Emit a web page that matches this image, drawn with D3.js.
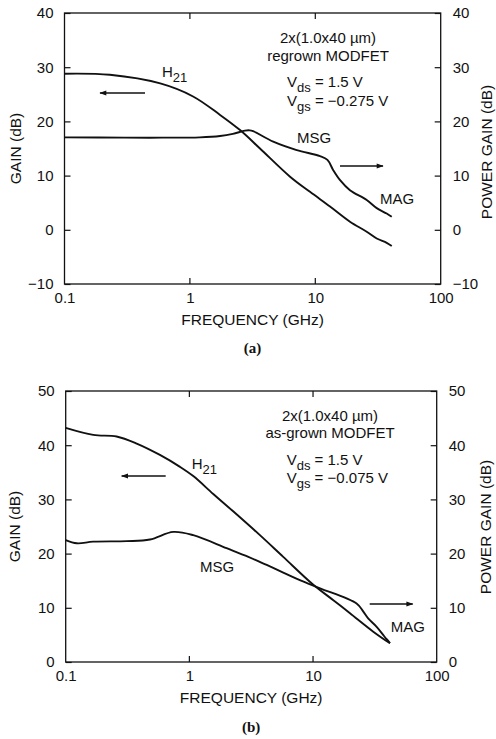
<!DOCTYPE html>
<html>
<head>
<meta charset="utf-8">
<script src="https://cdn.jsdelivr.net/npm/d3@7"></script>
<style>
  body { margin: 0; background: #fff; }
  svg text { font-family: "Liberation Sans", Arial, sans-serif; fill: #111; }
  .axis-title { font-size: 15.5px; }
  .tick-label { font-size: 15px; }
  .note { font-size: 15px; }
  .panel-tag { font-family: "Liberation Serif", "Times New Roman", serif; font-size: 15px; font-weight: bold; }
</style>
</head>
<body>
<svg id="paper" width="496" height="739"></svg>
<script>
// frequency ticks (GHz)
const freqTicks = [0.1, 1, 10, 100];
const freqInnerTicks = [1, 10];

// panel (a): regrown MODFET, [GHz, dB]
const h21A = [[0.1, 28.8], [0.23, 28.6], [0.58, 27.0], [1.06, 24.6], [1.74, 21.2], [2.51, 18.4],
  [3.62, 15.0], [6.29, 9.8], [9.07, 7.0], [13.1, 4.3], [18.9, 1.5], [25.7, -0.35], [30.9, -1.6],
  [37.1, -2.4], [40.7, -3.0]];
const msgA = [[0.1, 17.06], [0.3, 17.0], [0.6, 17.0], [1.2, 17.06], [1.74, 17.3], [2.2, 17.7],
  [2.75, 18.3], [3.0, 18.35], [3.19, 18.2], [4.62, 16.25], [7.11, 14.7], [10.9, 13.6], [12.5, 12.9],
  [13.9, 11.0], [15.7, 9.2], [18.9, 7.3], [25.7, 5.5], [30.9, 4.0], [37.1, 3.0], [40.7, 2.4]];
const gainTicksA = [-10, 0, 10, 20, 30, 40];

// panel (b): as-grown MODFET, [GHz, dB]
const h21B = [[0.1, 43.2], [0.167, 41.9], [0.258, 41.6], [0.375, 40.3], [0.578, 38.2], [0.84, 36.0],
  [1.075, 34.3], [1.56, 31.0], [2.26, 27.8], [3.72, 23.4], [5.74, 19.4], [10.0, 14.3], [14.6, 11.4],
  [19.9, 9.0], [30.7, 5.6], [41.9, 3.45]];
const msgB = [[0.1, 22.5], [0.123, 21.9], [0.167, 22.2], [0.311, 22.3], [0.48, 22.6], [0.741, 24.0],
  [1.075, 23.4], [2.0, 21.0], [3.0, 19.4], [4.22, 17.9], [5.74, 16.5], [8.0, 15.0], [11.4, 13.6],
  [22.5, 10.8], [25.5, 9.3], [27.9, 8.05], [32.7, 6.5], [36.9, 5.0], [39.4, 4.2], [41.9, 3.5]];
const gainTicksB = [0, 10, 20, 30, 40, 50];

const panels = [
  {
    tag: "(a)", h21: h21A, msg: msgA, yDomain: [-10, 40], yTicks: gainTicksA,
    box: { left: 64.5, right: 440.7, top: 13, bottom: 284 },
    info: ["2x(1.0x40 \u00b5m)", "regrown MODFET"], vds: "1.5 V", vgs: "\u22120.275 V",
    pos: {
      info: [263.5, 30, 48], volts: [222.5, 74, 93], h21: [97.5, 64], msg: [232.5, 130], mag: [315.5, 191],
      arrowL: [80.5, 35.5, 80], arrowR: [275.5, 318.5, 153], xTitle: 325, tag: 353,
      yTitleL: 15.5, yTitleR: 487, yTitleRy: 152,
    },
  },
  {
    tag: "(b)", h21: h21B, msg: msgB, yDomain: [0, 50], yTicks: gainTicksB,
    box: { left: 65.7, right: 436.7, top: 391, bottom: 662 },
    info: ["2x(1.0x40 \u00b5m)", "as-grown MODFET"], vds: "1.5 V", vgs: "\u22120.075 V",
    pos: {
      info: [264.3, 30, 47], volts: [221, 74, 92], h21: [126, 78], msg: [134.3, 181], mag: [325, 241],
      arrowL: [100, 56, 85], arrowR: [304, 347, 213], xTitle: 703, tag: 732,
      yTitleL: 15, yTitleR: 486, yTitleRy: 527,
    },
  },
];

const svg = d3.select("#paper");

svg.append("defs").append("marker")
  .attr("id", "head")
  .attr("viewBox", "0 0 10 10")
  .attr("refX", 9).attr("refY", 5)
  .attr("markerWidth", 9).attr("markerHeight", 7)
  .attr("markerUnits", "userSpaceOnUse")
  .attr("orient", "auto")
  .append("path")
  .attr("d", "M0,1.5 L10,5 L0,8.5 Z")
  .attr("fill", "#111");

const fmt = (v) => (v < 0 ? "\u2212" + Math.abs(v) : String(v));

panels.forEach((p) => {
  const b = p.box;
  const x = d3.scaleLog().domain([0.1, 100]).range([b.left, b.right]);
  const y = d3.scaleLinear().domain(p.yDomain).range([b.bottom, b.top]);
  const g = svg.append("g").attr("class", "panel");

  // frame
  g.append("rect")
    .attr("x", b.left).attr("y", b.top)
    .attr("width", b.right - b.left).attr("height", b.bottom - b.top)
    .attr("fill", "none").attr("stroke", "#111").attr("stroke-width", 1.3);

  // axes, ticks inward
  const axL = d3.axisLeft(y).tickValues(p.yTicks).tickSizeInner(-6).tickSizeOuter(0).tickPadding(11).tickFormat(fmt);
  const axR = d3.axisRight(y).tickValues(p.yTicks).tickSizeInner(-6).tickSizeOuter(0).tickPadding(12).tickFormat(fmt);
  const axB = d3.axisBottom(x).tickValues(freqTicks).tickSizeInner(0).tickSizeOuter(0).tickPadding(8)
    .tickFormat((d) => d3.format("~g")(d));

  [[axL, `translate(${b.left},0)`], [axR, `translate(${b.right},0)`], [axB, `translate(0,${b.bottom})`]]
    .forEach(([ax, tr]) => {
      const a = g.append("g").attr("transform", tr).call(ax);
      a.select(".domain").remove();
      a.selectAll("line").attr("stroke", "#111").attr("stroke-width", 1.2);
      a.selectAll("text").attr("class", "tick-label").attr("fill", "#111");
    });

  // top & bottom inner ticks at 1 and 10 GHz
  freqInnerTicks.forEach((f) => {
    g.append("line").attr("x1", x(f)).attr("x2", x(f)).attr("y1", b.top).attr("y2", b.top + 6)
      .attr("stroke", "#111").attr("stroke-width", 1.2);
    g.append("line").attr("x1", x(f)).attr("x2", x(f)).attr("y1", b.bottom).attr("y2", b.bottom - 6)
      .attr("stroke", "#111").attr("stroke-width", 1.2);
  });

  // curves
  const line = d3.line().x((d) => x(d[0])).y((d) => y(d[1])).curve(d3.curveCatmullRom.alpha(0.5));
  [p.h21, p.msg].forEach((series) => {
    g.append("path").datum(series)
      .attr("d", line)
      .attr("fill", "none").attr("stroke", "#111").attr("stroke-width", 1.9)
      .attr("stroke-linejoin", "round");
  });

  const pos = p.pos;
  // titles
  g.append("text").attr("class", "axis-title")
    .attr("x", (b.left + b.right) / 2).attr("y", pos.xTitle)
    .attr("text-anchor", "middle").text("FREQUENCY (GHz)");
  g.append("text").attr("class", "axis-title")
    .attr("transform", `translate(${pos.yTitleL + 5},${(b.top + b.bottom) / 2}) rotate(-90)`)
    .attr("text-anchor", "middle").text("GAIN (dB)");
  g.append("text").attr("class", "axis-title")
    .attr("transform", `translate(${pos.yTitleR + 5},${pos.yTitleRy}) rotate(-90)`)
    .attr("text-anchor", "middle").text("POWER GAIN (dB)");
  g.append("text").attr("class", "panel-tag")
    .attr("x", (b.left + b.right) / 2).attr("y", pos.tag)
    .attr("text-anchor", "middle").text(p.tag);

  // device notes
  p.info.forEach((t, i) => {
    g.append("text").attr("class", "note")
      .attr("x", b.left + pos.info[0]).attr("y", b.top + pos.info[1 + i])
      .attr("text-anchor", "middle").text(t);
  });
  [["ds", p.vds], ["gs", p.vgs]].forEach(([sub, val], i) => {
    const t = g.append("text").attr("class", "note")
      .attr("x", b.left + pos.volts[0]).attr("y", b.top + pos.volts[1 + i]);
    t.append("tspan").text("V");
    t.append("tspan").attr("dy", 5).style("font-size", "13px").text(sub);
    t.append("tspan").attr("dy", -5).text(" = " + val);
  });

  // curve labels
  const h = g.append("text").attr("class", "note")
    .attr("x", b.left + pos.h21[0]).attr("y", b.top + pos.h21[1]);
  h.append("tspan").text("H");
  h.append("tspan").attr("dy", 5).style("font-size", "13px").text("21");
  g.append("text").attr("class", "note").attr("x", b.left + pos.msg[0]).attr("y", b.top + pos.msg[1]).text("MSG");
  g.append("text").attr("class", "note").attr("x", b.left + pos.mag[0]).attr("y", b.top + pos.mag[1]).text("MAG");

  // axis arrows
  [pos.arrowL, pos.arrowR].forEach((a) => {
    g.append("line")
      .attr("x1", b.left + a[0]).attr("x2", b.left + a[1])
      .attr("y1", b.top + a[2]).attr("y2", b.top + a[2])
      .attr("stroke", "#111").attr("stroke-width", 1.3)
      .attr("marker-end", "url(#head)");
  });
});
</script>
</body>
</html>
